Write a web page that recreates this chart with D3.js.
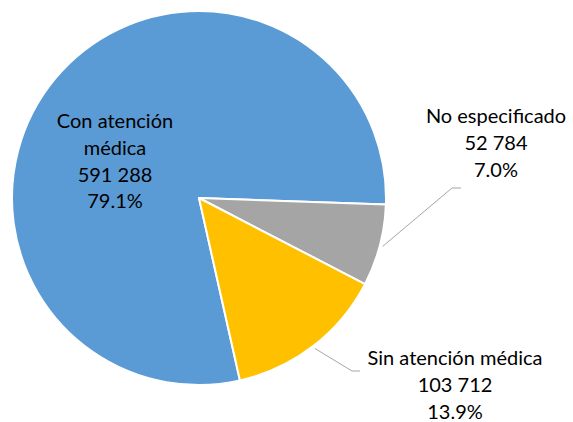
<!DOCTYPE html>
<html>
<head>
<meta charset="utf-8">
<script src="https://cdn.jsdelivr.net/npm/d3@7"></script>
<style>
  body { margin: 0; background: #fff; }
  svg { display: block; }
  text { font-family: Lato, "Open Sans", sans-serif; font-size: 20px; fill: #000; }
</style>
</head>
<body>
<div id="chart"></div>
<script>
const categories = ["Con atención médica", "No especificado", "Sin atención médica"];
const values = [591288, 52784, 103712];
const valueLabels = ["591 288", "52 784", "103 712"];
const pctLabels = ["79.1%", "7.0%", "13.9%"];
const colors = ["#5B9BD5", "#A5A5A5", "#FFC000"];

const width = 573, height = 422;
const cx = 199, cy = 198, radius = 187;

// label blocks: centre x, first baseline y, wrapped lines
const labelLayout = [
  { x: 115, y: 128, lines: ["Con atención", "médica"], leader: false },
  { x: 496, y: 123, lines: ["No especificado"], leader: true, elbow: [452, 188], end: 461 },
  { x: 455, y: 365, lines: ["Sin atención médica"], leader: true, elbow: [352, 371], end: 360 }
];
const lineH = 26.8;

const svg = d3.select("#chart").append("svg")
  .attr("width", width).attr("height", height);

const start = 167.35 * Math.PI / 180;
const pie = d3.pie().sort(null).value(d => d).startAngle(start).endAngle(start + 2 * Math.PI);
const arcs = pie(values);

const arc = d3.arc().innerRadius(0).outerRadius(radius);
const edge = d3.arc().innerRadius(radius + 3).outerRadius(radius + 3);

const g = svg.append("g").attr("transform", `translate(${cx},${cy})`);

g.selectAll("path.slice")
  .data(arcs)
  .join("path")
  .attr("class", "slice")
  .attr("d", arc)
  .attr("fill", (d, i) => colors[i])
  .attr("stroke", "#fff")
  .attr("stroke-width", 2)
  .attr("stroke-linejoin", "round");

// leader lines
arcs.forEach((d, i) => {
  const L = labelLayout[i];
  if (!L.leader) return;
  const p = edge.centroid(d);
  const pts = [[p[0] + cx, p[1] + cy], L.elbow, [L.end, L.elbow[1]]];
  svg.append("path")
    .attr("d", d3.line()(pts))
    .attr("fill", "none")
    .attr("stroke", "#A6A6A6")
    .attr("stroke-width", 1);
});

// labels
labelLayout.forEach((L, i) => {
  const lines = L.lines.concat([valueLabels[i], pctLabels[i]]);
  const t = svg.append("text")
    .attr("text-anchor", "middle");
  lines.forEach((s, k) => {
    t.append("tspan")
      .attr("x", L.x)
      .attr("y", L.y + k * lineH)
      .text(s);
  });
});
</script>
</body>
</html>
